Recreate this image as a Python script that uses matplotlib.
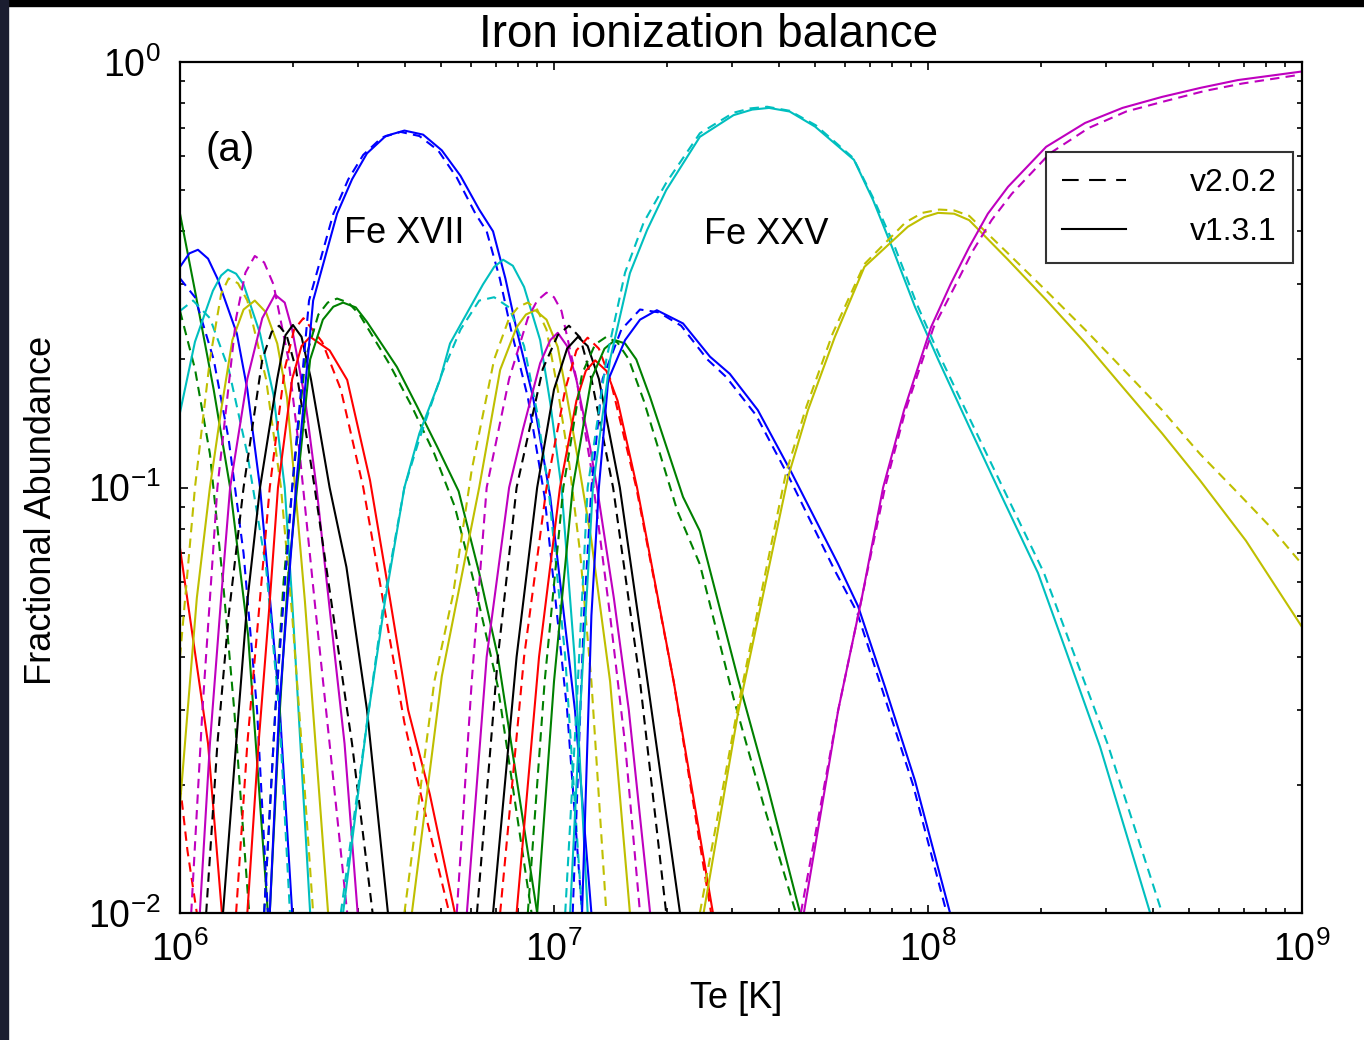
import numpy as np
import matplotlib
matplotlib.use("Agg")
import matplotlib.pyplot as plt
from matplotlib.lines import Line2D
from matplotlib.patches import Rectangle

plt.rcParams['font.family'] = ['Liberation Sans', 'DejaVu Sans']
plt.rcParams['mathtext.default'] = 'regular'

# values: log10(Te) and fractional abundance
# *_131 = v1.3.1 (solid), *_202 = v2.0.2 (dashed)
fe08_T_131 = [6.0, 6.035, 6.075, 6.112]
fe08_f_131 = [0.072, 0.044, 0.025, 0.01]
fe08_T_202 = [6.0, 6.02, 6.045]
fe08_f_202 = [0.02, 0.014, 0.01]

fe09_T_131 = [6.0, 6.04, 6.09, 6.134, 6.182, 6.235]
fe09_f_131 = [0.44, 0.29, 0.17, 0.10, 0.045, 0.01]
fe09_T_202 = [6.0, 6.04, 6.08, 6.115, 6.145, 6.185]
fe09_f_202 = [0.26, 0.19, 0.12, 0.06, 0.03, 0.01]

fe10_T_131 = [6.0, 6.025, 6.048, 6.075, 6.10, 6.152, 6.18, 6.214, 6.267, 6.30]
fe10_f_131 = [0.33, 0.355, 0.362, 0.345, 0.31, 0.23, 0.17, 0.10, 0.03, 0.01]
fe10_T_202 = [6.0, 6.04, 6.09, 6.13, 6.17, 6.206, 6.235]
fe10_f_202 = [0.31, 0.28, 0.20, 0.13, 0.07, 0.03, 0.01]

fe11_T_131 = [6.0, 6.04, 6.088, 6.11, 6.128, 6.15, 6.17, 6.214, 6.25, 6.28, 6.30, 6.348]
fe11_f_131 = [0.15, 0.22, 0.29, 0.315, 0.325, 0.318, 0.30, 0.23, 0.165, 0.10, 0.054, 0.01]
fe11_T_202 = [6.0, 6.035, 6.08, 6.13, 6.18, 6.23, 6.265, 6.294]
fe11_f_202 = [0.26, 0.275, 0.25, 0.19, 0.12, 0.065, 0.03, 0.01]

fe12_T_131 = [6.0, 6.045, 6.08, 6.11, 6.14, 6.17, 6.2, 6.23, 6.26, 6.286, 6.31, 6.334, 6.396]
fe12_f_131 = [0.018, 0.055, 0.10, 0.152, 0.222, 0.262, 0.275, 0.258, 0.218, 0.163, 0.095, 0.054, 0.01]
fe12_T_202 = [6.0, 6.04, 6.08, 6.11, 6.13, 6.155, 6.18, 6.23, 6.27, 6.30, 6.325, 6.356]
fe12_f_202 = [0.04, 0.10, 0.20, 0.285, 0.31, 0.302, 0.275, 0.18, 0.10, 0.05, 0.025, 0.01]

fe13_T_131 = [6.053, 6.08, 6.11, 6.134, 6.18, 6.22, 6.254, 6.28, 6.30, 6.335, 6.365, 6.40, 6.44, 6.475]
fe13_f_131 = [0.01, 0.025, 0.055, 0.10, 0.18, 0.25, 0.284, 0.272, 0.235, 0.16, 0.10, 0.052, 0.025, 0.01]
fe13_T_202 = [6.03, 6.06, 6.10, 6.15, 6.175, 6.2, 6.225, 6.25, 6.29, 6.32, 6.36, 6.40, 6.447]
fe13_f_202 = [0.01, 0.03, 0.10, 0.25, 0.32, 0.35, 0.338, 0.30, 0.20, 0.12, 0.054, 0.025, 0.01]

fe14_T_131 = [6.115, 6.15, 6.18, 6.214, 6.26, 6.282, 6.302, 6.325, 6.35, 6.40, 6.445, 6.50, 6.556]
fe14_f_131 = [0.01, 0.025, 0.054, 0.10, 0.18, 0.228, 0.241, 0.226, 0.18, 0.10, 0.065, 0.03, 0.01]
fe14_T_202 = [6.07, 6.10, 6.13, 6.17, 6.22, 6.245, 6.265, 6.285, 6.31, 6.36, 6.41, 6.46, 6.515]
fe14_f_202 = [0.01, 0.025, 0.05, 0.10, 0.20, 0.232, 0.24, 0.228, 0.19, 0.10, 0.05, 0.025, 0.01]

fe15_T_131 = [6.18, 6.21, 6.24, 6.262, 6.30, 6.325, 6.348, 6.40, 6.447, 6.508, 6.561, 6.61, 6.668, 6.735]
fe15_f_131 = [0.01, 0.025, 0.054, 0.10, 0.18, 0.215, 0.226, 0.21, 0.179, 0.104, 0.055, 0.03, 0.019, 0.01]
fe15_T_202 = [6.15, 6.18, 6.21, 6.24, 6.28, 6.305, 6.33, 6.38, 6.43, 6.49, 6.55, 6.60, 6.65, 6.72]
fe15_f_202 = [0.01, 0.025, 0.05, 0.10, 0.19, 0.235, 0.25, 0.22, 0.17, 0.10, 0.05, 0.028, 0.018, 0.01]

fe16_T_131 = [6.24, 6.267, 6.288, 6.313, 6.348, 6.382, 6.41, 6.436, 6.47, 6.50, 6.58, 6.634, 6.687,
              6.745, 6.80, 6.85, 6.955]
fe16_f_131 = [0.01, 0.03, 0.06, 0.10, 0.20, 0.248, 0.266, 0.272, 0.265, 0.245, 0.192, 0.155, 0.125,
              0.098, 0.063, 0.04, 0.01]
fe16_T_202 = [6.225, 6.255, 6.277, 6.30, 6.335, 6.37, 6.395, 6.42, 6.45, 6.48, 6.56, 6.62, 6.68,
              6.735, 6.79, 6.85, 6.94]
fe16_f_202 = [0.01, 0.03, 0.06, 0.10, 0.20, 0.255, 0.272, 0.278, 0.272, 0.255, 0.195, 0.155, 0.12,
              0.09, 0.058, 0.034, 0.01]

fe17_T_131 = [6.24, 6.265, 6.31, 6.356, 6.42, 6.46, 6.50, 6.55, 6.60, 6.65, 6.70, 6.75, 6.80,
              6.837, 6.87, 6.90, 6.944, 6.99, 7.056, 7.10]
fe17_f_131 = [0.01, 0.03, 0.10, 0.275, 0.44, 0.53, 0.61, 0.67, 0.69, 0.675, 0.62, 0.54, 0.45,
              0.40, 0.31, 0.235, 0.163, 0.095, 0.03, 0.01]
fe17_T_202 = [6.225, 6.255, 6.30, 6.345, 6.41, 6.45, 6.49, 6.54, 6.59, 6.64, 6.69, 6.74, 6.79,
              6.82, 6.855, 6.885, 6.93, 6.975, 7.035, 7.075]
fe17_f_202 = [0.01, 0.03, 0.10, 0.275, 0.44, 0.53, 0.605, 0.665, 0.685, 0.67, 0.62, 0.535, 0.44,
              0.40, 0.31, 0.235, 0.163, 0.095, 0.03, 0.01]

fe18_T_131 = [6.436, 6.50, 6.548, 6.60, 6.64, 6.695, 6.722, 6.81, 6.84, 6.864, 6.89, 6.92, 6.963,
              6.99, 7.02, 7.055, 7.09]
fe18_f_131 = [0.01, 0.028, 0.054, 0.10, 0.134, 0.179, 0.218, 0.30, 0.33, 0.343, 0.332, 0.296, 0.222,
              0.158, 0.10, 0.04, 0.01]
fe18_T_202 = [6.43, 6.50, 6.545, 6.60, 6.64, 6.70, 6.75, 6.80, 6.84, 6.88, 6.92, 6.955, 6.985, 7.03, 7.075]
fe18_f_202 = [0.01, 0.028, 0.054, 0.10, 0.13, 0.185, 0.235, 0.275, 0.28, 0.265, 0.215, 0.15, 0.10, 0.04, 0.01]

fe19_T_131 = [6.62, 6.70, 6.75, 6.80, 6.856, 6.90, 6.925, 6.95, 6.98, 7.01, 7.035, 7.065, 7.10, 7.15, 7.203]
fe19_f_131 = [0.01, 0.036, 0.06, 0.10, 0.189, 0.238, 0.255, 0.261, 0.248, 0.214, 0.163, 0.115, 0.075,
              0.035, 0.01]
fe19_T_202 = [6.60, 6.68, 6.73, 6.78, 6.84, 6.88, 6.905, 6.93, 6.955, 6.98, 7.01, 7.04, 7.07, 7.10, 7.14]
fe19_f_202 = [0.01, 0.035, 0.056, 0.11, 0.20, 0.25, 0.266, 0.272, 0.262, 0.235, 0.17, 0.115, 0.07,
              0.035, 0.01]

fe20_T_131 = [6.767, 6.82, 6.88, 6.917, 6.963, 6.99, 7.01, 7.035, 7.06, 7.096, 7.115, 7.16, 7.20, 7.257]
fe20_f_131 = [0.01, 0.04, 0.10, 0.137, 0.196, 0.222, 0.231, 0.215, 0.179, 0.125, 0.10, 0.055, 0.03, 0.01]
fe20_T_202 = [6.74, 6.78, 6.82, 6.88, 6.93, 6.955, 6.98, 7.0, 7.02, 7.06, 7.10, 7.15, 7.19, 7.23]
fe20_f_202 = [0.01, 0.035, 0.10, 0.18, 0.25, 0.275, 0.287, 0.28, 0.26, 0.18, 0.11, 0.05, 0.025, 0.01]

fe21_T_131 = [6.837, 6.90, 6.955, 7.0, 7.035, 7.064, 7.09, 7.12, 7.176, 7.25, 7.337]
fe21_f_131 = [0.01, 0.04, 0.10, 0.17, 0.212, 0.226, 0.215, 0.18, 0.10, 0.035, 0.01]
fe21_T_202 = [6.794, 6.85, 6.90, 6.97, 7.01, 7.04, 7.07, 7.10, 7.158, 7.23, 7.30]
fe21_f_202 = [0.01, 0.04, 0.10, 0.19, 0.228, 0.24, 0.225, 0.18, 0.10, 0.035, 0.01]

fe22_T_131 = [6.90, 6.96, 7.016, 7.06, 7.085, 7.11, 7.14, 7.17, 7.222, 7.32, 7.425]
fe22_f_131 = [0.01, 0.04, 0.10, 0.16, 0.188, 0.199, 0.188, 0.16, 0.10, 0.035, 0.01]
fe22_T_202 = [6.856, 6.92, 6.98, 7.03, 7.06, 7.09, 7.12, 7.15, 7.22, 7.32, 7.42]
fe22_f_202 = [0.01, 0.04, 0.10, 0.17, 0.21, 0.225, 0.212, 0.18, 0.10, 0.035, 0.01]

fe23_T_131 = [6.955, 7.0, 7.05, 7.10, 7.135, 7.163, 7.19, 7.22, 7.257, 7.345, 7.39, 7.492, 7.57, 7.658]
fe23_f_131 = [0.01, 0.035, 0.10, 0.18, 0.212, 0.222, 0.218, 0.20, 0.163, 0.095, 0.079, 0.0355, 0.02, 0.01]
fe23_T_202 = [6.93, 6.975, 7.025, 7.075, 7.11, 7.14, 7.17, 7.20, 7.24, 7.33, 7.39, 7.48, 7.56, 7.647]
fe23_f_202 = [0.01, 0.035, 0.10, 0.185, 0.217, 0.226, 0.219, 0.20, 0.16, 0.088, 0.066, 0.032, 0.018, 0.01]

fe24_T_131 = [7.075, 7.10, 7.12, 7.145, 7.19, 7.23, 7.275, 7.345, 7.417, 7.47, 7.545, 7.636,
              7.76, 7.813, 7.885, 7.965, 8.059]
fe24_f_131 = [0.01, 0.05, 0.10, 0.179, 0.222, 0.248, 0.261, 0.243, 0.203, 0.185, 0.152, 0.108,
              0.066, 0.0526, 0.034, 0.0205, 0.01]
fe24_T_202 = [7.05, 7.08, 7.10, 7.13, 7.18, 7.23, 7.28, 7.34, 7.41, 7.46, 7.54, 7.63,
              7.75, 7.81, 7.88, 7.96, 8.05]
fe24_f_202 = [0.01, 0.05, 0.10, 0.18, 0.235, 0.262, 0.258, 0.24, 0.20, 0.182, 0.148, 0.105,
              0.064, 0.051, 0.033, 0.02, 0.01]

fe25_T_131 = [7.043, 7.07, 7.104, 7.15, 7.203, 7.249, 7.30, 7.39, 7.48, 7.53, 7.575, 7.63, 7.698,
              7.802, 7.853, 7.904, 7.965, 8.027, 8.11, 8.193, 8.294, 8.366, 8.46, 8.594]
fe25_f_131 = [0.01, 0.03, 0.10, 0.20, 0.319, 0.403, 0.50, 0.667, 0.75, 0.773, 0.78, 0.765, 0.705,
              0.589, 0.474, 0.367, 0.266, 0.20, 0.139, 0.097, 0.063, 0.042, 0.0246, 0.01]
fe25_T_202 = [7.03, 7.06, 7.09, 7.14, 7.19, 7.24, 7.30, 7.39, 7.48, 7.525, 7.57, 7.63, 7.70,
              7.80, 7.853, 7.91, 7.97, 8.03, 8.12, 8.20, 8.31, 8.38, 8.48, 8.626]
fe25_f_202 = [0.01, 0.03, 0.10, 0.20, 0.32, 0.42, 0.52, 0.68, 0.76, 0.778, 0.785, 0.768, 0.71,
              0.595, 0.48, 0.37, 0.27, 0.205, 0.14, 0.10, 0.063, 0.043, 0.025, 0.01]

fe26_T_131 = [7.40, 7.492, 7.626, 7.679, 7.751, 7.83, 7.946, 7.99, 8.027, 8.07, 8.11, 8.214, 8.316,
              8.42, 8.521, 8.626, 8.727, 8.85, 9.0]
fe26_f_131 = [0.01, 0.0295, 0.106, 0.152, 0.226, 0.33, 0.41, 0.432, 0.442, 0.44, 0.425, 0.343, 0.276,
              0.219, 0.172, 0.134, 0.104, 0.075, 0.047]
fe26_T_202 = [7.39, 7.49, 7.62, 7.675, 7.745, 7.83, 7.94, 7.985, 8.03, 8.07, 8.11, 8.214, 8.316,
              8.42, 8.521, 8.626, 8.727, 8.829, 8.92, 9.0]
fe26_f_202 = [0.01, 0.03, 0.108, 0.155, 0.23, 0.335, 0.42, 0.442, 0.45, 0.448, 0.435, 0.355, 0.29,
              0.235, 0.19, 0.152, 0.12, 0.097, 0.08, 0.066]

fe27_T_131 = [7.668, 7.76, 7.823, 7.88, 7.936, 8.008, 8.06, 8.11, 8.16, 8.214, 8.316, 8.42, 8.52,
              8.626, 8.73, 8.829, 9.0]
fe27_f_131 = [0.01, 0.03, 0.055, 0.10, 0.152, 0.238, 0.30, 0.367, 0.44, 0.509, 0.632, 0.719, 0.78,
              0.828, 0.87, 0.907, 0.95]
fe27_T_202 = [7.66, 7.76, 7.823, 7.885, 7.94, 8.015, 8.07, 8.12, 8.17, 8.224, 8.326, 8.43, 8.53,
              8.636, 8.74, 8.84, 9.0]
fe27_f_202 = [0.01, 0.03, 0.055, 0.10, 0.152, 0.238, 0.295, 0.36, 0.425, 0.49, 0.61, 0.70, 0.765,
              0.81, 0.855, 0.89, 0.935]

ion_colors = ['r', 'g', 'b', 'c', 'y', 'm', 'k', 'r', 'g', 'b',
              'c', 'y', 'm', 'k', 'r', 'g', 'b', 'c', 'y', 'm']
ion_curves = [
    (fe08_T_131, fe08_f_131, fe08_T_202, fe08_f_202),
    (fe09_T_131, fe09_f_131, fe09_T_202, fe09_f_202),
    (fe10_T_131, fe10_f_131, fe10_T_202, fe10_f_202),
    (fe11_T_131, fe11_f_131, fe11_T_202, fe11_f_202),
    (fe12_T_131, fe12_f_131, fe12_T_202, fe12_f_202),
    (fe13_T_131, fe13_f_131, fe13_T_202, fe13_f_202),
    (fe14_T_131, fe14_f_131, fe14_T_202, fe14_f_202),
    (fe15_T_131, fe15_f_131, fe15_T_202, fe15_f_202),
    (fe16_T_131, fe16_f_131, fe16_T_202, fe16_f_202),
    (fe17_T_131, fe17_f_131, fe17_T_202, fe17_f_202),
    (fe18_T_131, fe18_f_131, fe18_T_202, fe18_f_202),
    (fe19_T_131, fe19_f_131, fe19_T_202, fe19_f_202),
    (fe20_T_131, fe20_f_131, fe20_T_202, fe20_f_202),
    (fe21_T_131, fe21_f_131, fe21_T_202, fe21_f_202),
    (fe22_T_131, fe22_f_131, fe22_T_202, fe22_f_202),
    (fe23_T_131, fe23_f_131, fe23_T_202, fe23_f_202),
    (fe24_T_131, fe24_f_131, fe24_T_202, fe24_f_202),
    (fe25_T_131, fe25_f_131, fe25_T_202, fe25_f_202),
    (fe26_T_131, fe26_f_131, fe26_T_202, fe26_f_202),
    (fe27_T_131, fe27_f_131, fe27_T_202, fe27_f_202),
]

# matlab style colours
rgb = {'b': (0, 0, 1), 'g': (0, 0.5, 0), 'r': (1, 0, 0), 'c': (0, 0.75, 0.75),
       'm': (0.75, 0, 0.75), 'y': (0.75, 0.75, 0), 'k': (0, 0, 0)}

fig = plt.figure(figsize=(13.64, 10.40), dpi=100)
ax = fig.add_axes([180/1364, 1-913/1040, 1122/1364, 851/1040])

lw = 1.5
for col, (t1, f1, t2, f2) in zip(ion_colors, ion_curves):
    ax.plot(10**np.array(t2), f2, color=rgb[col], lw=lw, dashes=(4.5, 3))
    ax.plot(10**np.array(t1), f1, color=rgb[col], lw=lw)

ax.set_xscale('log')
ax.set_yscale('log')
ax.set_xlim(1e6, 1e9)
ax.set_ylim(1e-2, 1)
ax.set_xticks([1e6, 1e7, 1e8, 1e9])
ax.set_xticklabels(['$10^{6}$', '$10^{7}$', '$10^{8}$', '$10^{9}$'])
ax.set_yticks([1e-2, 1e-1, 1])
ax.set_yticklabels(['$10^{-2}$', '$10^{-1}$', '$10^{0}$'])
ax.tick_params(which='both', direction='in', top=True, right=True, labelsize=27, width=1.2)
ax.tick_params(which='major', length=6)
ax.tick_params(which='minor', length=3.5)
ax.tick_params(axis='x', pad=13)
ax.tick_params(axis='y', pad=14)
for s in ax.spines.values():
    s.set_linewidth(1.6)

ax.text(0.0446, 0.8966, '(a)', transform=ax.transAxes, fontsize=29, ha='center', va='center')
ax.text(0.1996, 0.798, 'Fe XVII', transform=ax.transAxes, fontsize=26, ha='center', va='center')
ax.text(0.5223, 0.797, 'Fe XXV', transform=ax.transAxes, fontsize=26, ha='center', va='center')

handles = [Line2D([], [], color='k', lw=lw, dashes=(8, 5)), Line2D([], [], color='k', lw=lw)]
leg = ax.legend(handles, ['v2.0.2', 'v1.3.1'], loc='upper right', bbox_to_anchor=(0.992, 0.894),
                fontsize=23, frameon=True, fancybox=False, handlelength=2.0, handletextpad=2.0,
                borderpad=0.5, labelspacing=0.6, borderaxespad=0)
leg.get_frame().set_edgecolor('k')
leg.get_frame().set_linewidth(1.5)

fig.text(709/1364, 1-35/1040, 'Iron ionization balance', fontsize=33, ha='center', va='center')
fig.text(736/1364, 1-998/1040, 'Te [K]', fontsize=26, ha='center', va='center')
fig.text(42/1364, 1-510/1040, 'Fractional Abundance', fontsize=26, ha='center', va='center',
         rotation=90)

# dark slide border at top and left
fig.patches.append(Rectangle((0, 1-6/1040), 1, 6/1040, transform=fig.transFigure,
                             color='black', zorder=10))
fig.patches.append(Rectangle((0, 0), 8/1364, 1, transform=fig.transFigure,
                             color='#1b1d30', zorder=10))

fig.savefig('out.png', dpi=100)
